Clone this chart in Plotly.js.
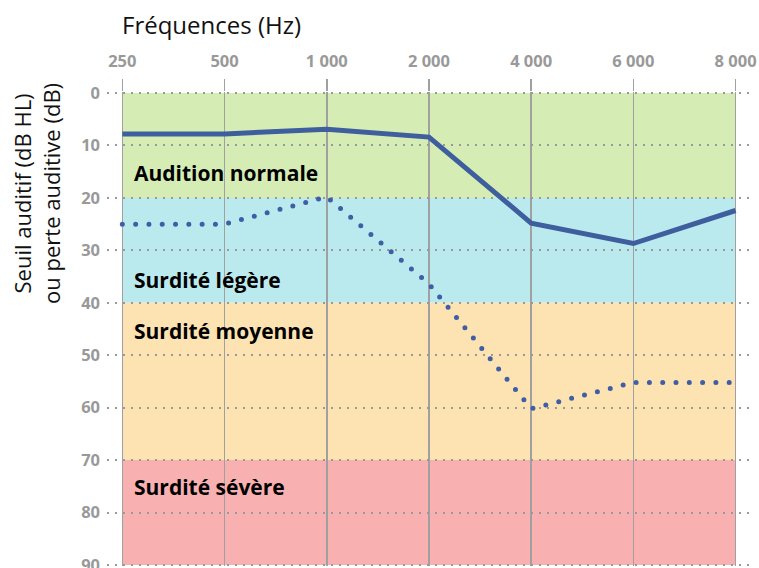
<!DOCTYPE html>
<html>
<head>
<meta charset="utf-8">
<script src="https://cdn.plot.ly/plotly-3.0.1.min.js"></script>
<style>html,body{margin:0;padding:0;background:#fff;}#chart{width:759px;height:568px;}</style>
</head>
<body>
<div id="chart"></div>
<script>
const frequencies = ['250', '500', '1\u00a0000', '2\u00a0000', '4\u00a0000', '6\u00a0000', '8\u00a0000'];
const seuilSolid = [7.8, 7.8, 6.9, 8.4, 24.8, 28.7, 22.4];
const seuilDotted = [25, 25, 19.8, 36.4, 60.2, 55.2, 55.2];
const bandNames = ['Audition normale', 'Surdité légère', 'Surdité moyenne', 'Surdité sévère'];
const bandFrom = [0, 20, 40, 70];
const bandTo = [20, 40, 70, 90];
const bandLabelY = [15.3, 35.7, 45.4, 75.1];
const bandColors = ['#d5edb5', '#bbeaee', '#fde3b1', '#f8b0b0'];
const yTicks = [0, 10, 20, 30, 40, 50, 60, 70, 80, 90];

const FONT = '"Open Sans", Lato, sans-serif';
const solidColor = '#3f5e9e';
const dottedColor = '#3f5ea6';

const traces = [
  {x: frequencies, y: seuilSolid, type: 'scatter', mode: 'lines',
   line: {color: solidColor, width: 5}, hoverinfo: 'skip', showlegend: false},
  {x: frequencies, y: seuilDotted, type: 'scatter', mode: 'lines',
   line: {color: dottedColor, width: 5, dash: '1px,12.3px'}, hoverinfo: 'skip', showlegend: false}
];

const shapes = bandFrom.map((f, i) => ({
  type: 'rect', xref: 'x', yref: 'y', x0: 0, x1: frequencies.length - 1,
  y0: f, y1: bandTo[i], fillcolor: bandColors[i], line: {width: 0}, layer: 'below'
}));

const annotations = bandNames.map((n, i) => ({
  text: n, xref: 'x', yref: 'y', x: 0, y: bandLabelY[i], xanchor: 'left', yanchor: 'middle',
  xshift: 10, showarrow: false, font: {family: FONT, size: 21, color: '#000', weight: 700}
}));
annotations.push({
  text: 'Fréquences (Hz)', xref: 'paper', yref: 'paper', x: 0, y: 1, xanchor: 'left', yanchor: 'middle',
  xshift: 13, yshift: 68, showarrow: false, font: {family: FONT, size: 24, color: '#111'}
});
annotations.push({
  text: 'Seuil auditif (dB HL)<br>ou perte auditive (dB)', xref: 'paper', yref: 'paper', x: 0, y: 0.785,
  xanchor: 'center', yanchor: 'middle', xshift: -70, textangle: -90, showarrow: false,
  font: {family: FONT, size: 22, color: '#111'}
});

const layout = {
  width: 759, height: 568,
  margin: {l: 106.7, r: 3.7, t: 91.5, b: 1.5},
  paper_bgcolor: '#fff', plot_bgcolor: 'rgba(0,0,0,0)',
  font: {family: FONT},
  xaxis: {
    type: 'category', side: 'top', range: [-0.15, 6.19],
    showgrid: true, gridcolor: '#a0a0a0', gridwidth: 1.5,
    ticks: 'outside', ticklen: 12, tickcolor: '#a0a0a0', tickwidth: 1.5,
    tickfont: {family: FONT, size: 16.5, color: '#999', weight: 700},
    ticklabelstandoff: 5,
    zeroline: false, showline: false, fixedrange: true
  },
  yaxis: {
    range: [90.2, -0.2], tickvals: yTicks,
    showgrid: true, gridcolor: '#999', gridwidth: 2, griddash: '2px,6px',
    ticks: '', tickfont: {family: FONT, size: 16.5, color: '#999', weight: 700},
    ticklabelstandoff: 6, ticklabeloverflow: 'allow',
    zeroline: false, showline: false, fixedrange: true
  },
  shapes: shapes,
  annotations: annotations
};

Plotly.newPlot('chart', traces, layout, {displayModeBar: false, staticPlot: true}).then(() => {
  const paths = document.querySelectorAll('.scatterlayer .trace path.js-line');
  if (paths[1]) {
    paths[1].style.strokeLinecap = 'round';
    paths[1].style.strokeDasharray = '0 13.3';
  }
});
</script>
</body>
</html>
